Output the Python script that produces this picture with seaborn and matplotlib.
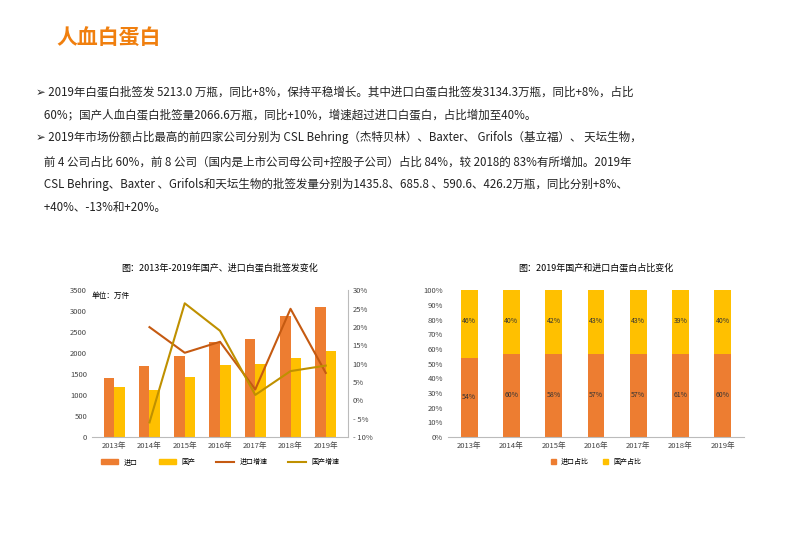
import matplotlib
matplotlib.use("Agg")
import matplotlib.pyplot as plt
import numpy as np
import pandas as pd
import seaborn as sns

plt.rcParams["font.family"] = ["Noto Sans CJK SC", "DejaVu Sans"]

years = ["2013年", "2014年", "2015年", "2016年", "2017年", "2018年", "2019年"]
imported = [1400, 1700, 1930, 2270, 2330, 2900, 3100]
domestic = [1190, 1120, 1430, 1720, 1740, 1880, 2060]
imp_growth = [np.nan, 20, 13, 16, 3, 25, 7.5]
dom_growth = [np.nan, -6, 26.5, 19, 1.5, 8, 9.5]
imp_share = [54, 57, 57, 57, 57, 57, 57]
dom_share = [46, 43, 43, 43, 43, 43, 43]
imp_share_lbl = ["54%", "60%", "58%", "57%", "57%", "61%", "60%"]
dom_share_lbl = ["46%", "40%", "42%", "43%", "43%", "39%", "40%"]

ORANGE = "#ED7D31"
GOLD = "#FFC000"
BROWN = "#C55A11"
OLIVE = "#BF9000"

fig = plt.figure(figsize=(8, 5.33), dpi=100)
fig.text(0.07, 0.915, "人血白蛋白", fontsize=15, color="#F07F0E", fontweight="bold")

lines = [
    (0.82, "➢ 2019年白蛋白批签发 5213.0 万瓶，同比+8%，保持平稳增长。其中进口白蛋白批签发3134.3万瓶，同比+8%，占比"),
    (0.778, "   60%；国产人血白蛋白批签量2066.6万瓶，同比+10%，增速超过进口白蛋白，占比增加至40%。"),
    (0.735, "➢ 2019年市场份额占比最高的前四家公司分别为 CSL Behring（杰特贝林）、Baxter、 Grifols（基立福）、 天坛生物，"),
    (0.69, "   前 4 公司占比 60%，前 8 公司（国内是上市公司母公司+控股子公司）占比 84%，较 2018的 83%有所增加。2019年"),
    (0.648, "   CSL Behring、Baxter 、Grifols和天坛生物的批签发量分别为1435.8、685.8 、590.6、426.2万瓶，同比分别+8%、"),
    (0.605, "   +40%、-13%和+20%。"),
]
for y, t in lines:
    fig.text(0.045, y, t, fontsize=8.3, color="#222222")

# left chart
df = pd.DataFrame({"year": years * 2, "val": imported + domestic,
                   "kind": ["进口"] * 7 + ["国产"] * 7})
ax = fig.add_axes([0.115, 0.18, 0.32, 0.275])
sns.barplot(data=df, x="year", y="val", hue="kind", palette=[ORANGE, GOLD],
            ax=ax, width=0.6, legend=False, saturation=1)
ax.set_ylim(0, 3500)
ax.set_yticks(range(0, 3501, 500))
ax.set_xlabel("")
ax.set_ylabel("")
ax.tick_params(labelsize=5.5, length=0, colors="#444444")
for s in ["top", "right", "left"]:
    ax.spines[s].set_visible(False)
ax.spines["bottom"].set_color("#BBBBBB")
ax.text(0.0, 0.95, "单位：万件", transform=ax.transAxes, fontsize=5.5)
ax2 = ax.twinx()
x = np.arange(7)
ax2.plot(x, imp_growth, color=BROWN, lw=1.5)
ax2.plot(x, dom_growth, color=OLIVE, lw=1.5)
ax2.set_ylim(-10, 30)
ax2.set_yticks(range(-10, 31, 5))
ax2.set_yticklabels([f"{v}%" if v >= 0 else f"- {-v}%" for v in range(-10, 31, 5)])
ax2.tick_params(labelsize=5.5, length=0, colors="#444444")
for s in ["top", "left", "bottom"]:
    ax2.spines[s].set_visible(False)
ax2.spines["right"].set_color("#BBBBBB")
ax.set_title("图：2013年-2019年国产、进口白蛋白批签发变化", fontsize=6.5, pad=14)
handles = [plt.Rectangle((0, 0), 1, 1, color=ORANGE), plt.Rectangle((0, 0), 1, 1, color=GOLD),
           plt.Line2D([], [], color=BROWN, lw=1.5), plt.Line2D([], [], color=OLIVE, lw=1.5)]
ax.legend(handles, ["进口", "国产", "进口增速", "国产增速"], loc="upper center",
          bbox_to_anchor=(0.5, -0.1), ncol=4, fontsize=5, frameon=False,
          handlelength=2.5, handleheight=0.6, columnspacing=3)

# right chart
ax3 = fig.add_axes([0.56, 0.18, 0.37, 0.275])
sns.barplot(x=years, y=[100] * 7, color=GOLD, ax=ax3, width=0.4, saturation=1)
sns.barplot(x=years, y=imp_share, color=ORANGE, ax=ax3, width=0.4, saturation=1)
for i in range(7):
    ax3.text(i, imp_share[i] / 2, imp_share_lbl[i], ha="center", va="center", fontsize=5, color="#333333")
    ax3.text(i, 79, dom_share_lbl[i], ha="center", va="center", fontsize=5, color="#333333")
ax3.set_ylim(0, 100)
ax3.set_yticks(range(0, 101, 10))
ax3.set_yticklabels([f"{v}%" for v in range(0, 101, 10)])
ax3.tick_params(labelsize=5.5, length=0, colors="#444444")
for s in ["top", "right", "left"]:
    ax3.spines[s].set_visible(False)
ax3.spines["bottom"].set_color("#BBBBBB")
ax3.set_title("图：2019年国产和进口白蛋白占比变化", fontsize=6.5, pad=14)
h2 = [plt.Rectangle((0, 0), 1, 1, color=ORANGE), plt.Rectangle((0, 0), 1, 1, color=GOLD)]
ax3.legend(h2, ["进口占比", "国产占比"], loc="upper center", bbox_to_anchor=(0.5, -0.1),
           ncol=2, fontsize=5, frameon=False, handlelength=0.7, handleheight=0.7)

fig.savefig("out.png", dpi=100)
